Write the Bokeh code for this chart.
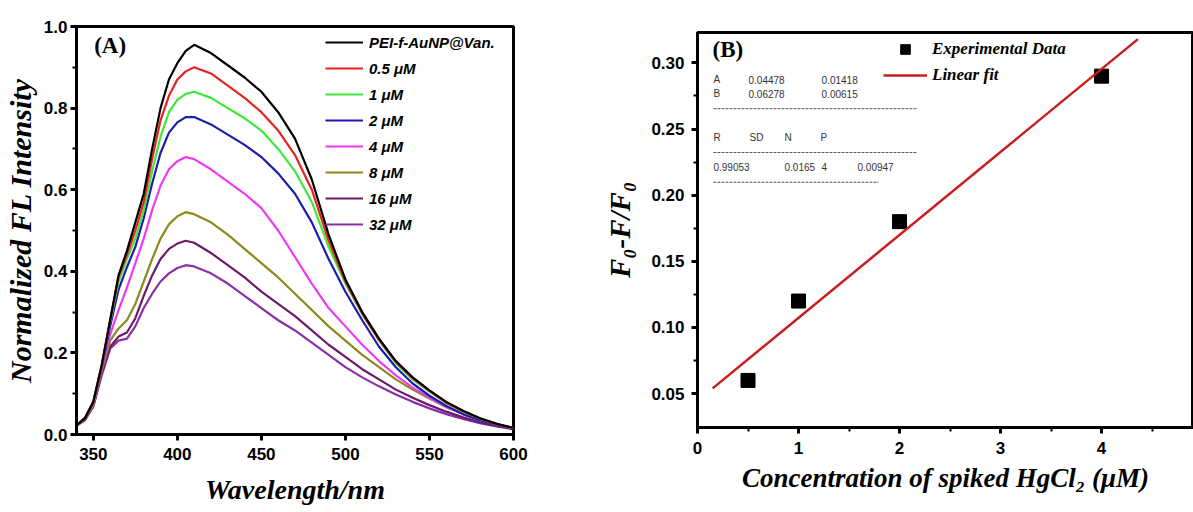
from bokeh.plotting import figure
from bokeh.layouts import row
from bokeh.models import FixedTicker, PrintfTickFormatter, Legend, LegendItem, Range1d
from bokeh.core.properties import value
from bokeh.embed import file_html
from bokeh.resources import INLINE

# ---------------- Panel A data ----------------
wavelength = [340, 345, 350, 355, 360, 365, 370, 375, 380, 385, 390, 395, 400, 405, 410,
              420, 430, 440, 450, 460, 470, 480, 490, 500, 510, 520, 530, 540,
              550, 560, 570, 580, 590, 600]
pei = [0.022, 0.04, 0.08, 0.17, 0.28, 0.39, 0.45, 0.52, 0.59, 0.70, 0.80, 0.87, 0.91, 0.94, 0.955,
       0.935, 0.905, 0.875, 0.84, 0.79, 0.725, 0.625, 0.49, 0.38, 0.30, 0.235, 0.18, 0.14,
       0.108, 0.08, 0.058, 0.04, 0.026, 0.016]
c05 = [0.022, 0.04, 0.08, 0.17, 0.28, 0.385, 0.44, 0.50, 0.57, 0.675, 0.77, 0.83, 0.87, 0.89, 0.90,
       0.885, 0.855, 0.825, 0.79, 0.745, 0.685, 0.60, 0.475, 0.375, 0.297, 0.232, 0.178, 0.138,
       0.107, 0.078, 0.057, 0.04, 0.026, 0.016]
c1 = [0.022, 0.04, 0.08, 0.17, 0.275, 0.375, 0.43, 0.48, 0.55, 0.645, 0.73, 0.79, 0.82, 0.835, 0.84,
      0.825, 0.80, 0.775, 0.745, 0.70, 0.645, 0.57, 0.46, 0.37, 0.295, 0.23, 0.175, 0.135,
      0.105, 0.077, 0.056, 0.039, 0.025, 0.016]
c2 = [0.022, 0.04, 0.078, 0.165, 0.265, 0.355, 0.41, 0.46, 0.53, 0.615, 0.69, 0.74, 0.765, 0.778, 0.778,
      0.76, 0.735, 0.71, 0.68, 0.64, 0.59, 0.52, 0.43, 0.35, 0.28, 0.215, 0.165, 0.125,
      0.095, 0.07, 0.05, 0.035, 0.024, 0.016]
c4 = [0.022, 0.04, 0.075, 0.16, 0.245, 0.305, 0.36, 0.42, 0.48, 0.55, 0.61, 0.65, 0.67, 0.68, 0.675,
      0.65, 0.62, 0.59, 0.555, 0.50, 0.435, 0.37, 0.31, 0.265, 0.22, 0.18, 0.145, 0.115,
      0.09, 0.068, 0.05, 0.035, 0.024, 0.016]
c8 = [0.022, 0.038, 0.072, 0.155, 0.23, 0.26, 0.28, 0.32, 0.375, 0.43, 0.48, 0.515, 0.535, 0.545, 0.54,
      0.52, 0.49, 0.455, 0.42, 0.385, 0.345, 0.305, 0.265, 0.23, 0.195, 0.165, 0.135, 0.11,
      0.088, 0.067, 0.05, 0.036, 0.025, 0.016]
c16 = [0.022, 0.036, 0.07, 0.15, 0.215, 0.24, 0.25, 0.285, 0.34, 0.39, 0.43, 0.455, 0.468, 0.475, 0.47,
       0.445, 0.415, 0.385, 0.35, 0.32, 0.29, 0.255, 0.22, 0.19, 0.16, 0.135, 0.11, 0.09,
       0.072, 0.056, 0.042, 0.03, 0.021, 0.014]
c32 = [0.022, 0.035, 0.068, 0.145, 0.21, 0.23, 0.235, 0.265, 0.31, 0.345, 0.375, 0.395, 0.408, 0.415, 0.412,
       0.395, 0.37, 0.34, 0.31, 0.28, 0.255, 0.225, 0.195, 0.165, 0.14, 0.118, 0.098, 0.08,
       0.064, 0.05, 0.038, 0.028, 0.02, 0.013]
series_labels = ["PEI-f-AuNP@Van.", "0.5 \u03bcM", "1 \u03bcM", "2 \u03bcM", "4 \u03bcM",
                 "8 \u03bcM", "16 \u03bcM", "32 \u03bcM"]
series_colors = ["#000000", "#e8231f", "#3ee83a", "#1c1cb0", "#ee3aee", "#8c8a1c", "#6e1a6a", "#8a2fa8"]

# ---------------- Panel B data ----------------
conc = [0.5, 1, 2, 4]
quench = [0.06, 0.12, 0.18, 0.29]
fit_x = [0.15, 4.36]
fit_y = [0.054, 0.318]
stats_row1 = ["A", "0.04478", "0.01418"]
stats_row2 = ["B", "0.06278", "0.00615"]
stats_head = ["R", "SD", "N", "P"]
stats_vals = ["0.99053", "0.0165", "4", "0.00947"]

SANS = "Liberation Sans"
SERIF = "Liberation Serif"


def style_axes(p):
    for ax in (p.xaxis[0], p.yaxis[0]):
        ax.axis_line_width = 3
        ax.major_tick_line_width = 3
        ax.minor_tick_line_width = 2
        ax.major_tick_out = 6
        ax.major_tick_in = 0
        ax.minor_tick_out = 4
        ax.minor_tick_in = 0
        ax.major_label_text_font = SANS
        ax.major_label_text_font_style = "bold"
        ax.major_label_text_font_size = "17px"
        ax.major_label_text_color = "black"
        ax.axis_label_text_font = SERIF
        ax.axis_label_text_font_style = "bold italic"
        ax.axis_label_text_color = "black"
    p.xgrid.visible = False
    p.ygrid.visible = False
    p.outline_line_color = "black"
    p.outline_line_width = 3
    p.outline_line_alpha = 1.0


# ---------------- Panel A ----------------
pA = figure(width=600, height=512, output_backend="svg", toolbar_location=None,
            x_range=Range1d(340, 600), y_range=Range1d(0, 1.0),
            min_border_left=76, min_border_right=87, min_border_top=26, min_border_bottom=78,
            x_axis_label="Wavelength/nm", y_axis_label="Normalized FL Intensity",
            frame_align=False)
style_axes(pA)
pA.xaxis.ticker = FixedTicker(ticks=[350, 400, 450, 500, 550, 600], minor_ticks=[])
pA.yaxis.ticker = FixedTicker(ticks=[0, 0.2, 0.4, 0.6, 0.8, 1.0], minor_ticks=[0.1, 0.3, 0.5, 0.7, 0.9])
pA.yaxis.formatter = PrintfTickFormatter(format="%.1f")
pA.xaxis.axis_label_text_font_size = "28px"
pA.yaxis.axis_label_text_font_size = "30px"
pA.xaxis.major_label_standoff = 7
pA.yaxis.major_label_standoff = 3
pA.xaxis.axis_label_standoff = 11
pA.yaxis.axis_label_standoff = 4

itemsA = []
for vals, lab, col in zip([pei, c05, c1, c2, c4, c8, c16, c32][::-1],
                          series_labels[::-1], series_colors[::-1]):
    r = pA.line(wavelength, vals, line_color=col, line_width=2.2)
    itemsA.append(LegendItem(label=lab, renderers=[r]))
itemsA = itemsA[::-1]
legA = Legend(items=itemsA, location=(249, 200), padding=0, margin=0,
              border_line_alpha=0, background_fill_alpha=0,
              glyph_width=38, glyph_height=20, label_height=20, spacing=6,
              label_standoff=6, label_text_font=SANS, label_text_font_style="bold italic",
              label_text_font_size="15px", label_text_color="black")
pA.add_layout(legA, "center")
pA.text(x=[350.5], y=[0.953], text=["(A)"], text_font=value(SERIF), text_font_style="bold",
        text_font_size="23px", text_baseline="middle", text_align="left", text_color="black")

# ---------------- Panel B ----------------
pB = figure(width=593, height=512, output_backend="svg", toolbar_location=None,
            x_range=Range1d(0, 4.91), y_range=Range1d(0.0244, 0.323),
            min_border_left=97, min_border_right=0, min_border_top=32, min_border_bottom=85,
            x_axis_label="Concentration of spiked HgCl\u2082 (\u03bcM)",
            y_axis_label="F\u2080-F/F\u2080", frame_align=False)
style_axes(pB)
pB.xaxis.ticker = FixedTicker(ticks=[0, 1, 2, 3, 4], minor_ticks=[0.5, 1.5, 2.5, 3.5, 4.5])
pB.yaxis.ticker = FixedTicker(ticks=[0.05, 0.10, 0.15, 0.20, 0.25, 0.30],
                              minor_ticks=[0.075, 0.125, 0.175, 0.225, 0.275])
pB.yaxis.formatter = PrintfTickFormatter(format="%.2f")
pB.xaxis.axis_label_text_font_size = "27px"
pB.yaxis.axis_label_text_font_size = "29px"
pB.xaxis.major_label_standoff = 8
pB.yaxis.major_label_standoff = 7
pB.xaxis.axis_label_standoff = 6
pB.yaxis.axis_label_standoff = 12

sc = pB.scatter(conc, quench, marker="square", size=14, fill_color="black", line_color="black")
fl = pB.line(fit_x, fit_y, line_color="#c81e1e", line_width=2.5)
legB = Legend(items=[LegendItem(label="Experimental Data", renderers=[sc]),
                     LegendItem(label="Linear fit", renderers=[fl])],
              location=(186, 340), padding=0, margin=0,
              border_line_alpha=0, background_fill_alpha=0,
              glyph_width=44, glyph_height=24, label_height=24, spacing=2,
              label_standoff=5, label_text_font=SERIF, label_text_font_style="bold italic",
              label_text_font_size="17px", label_text_color="black")
pB.add_layout(legB, "center")
pB.text(x=[0.149], y=[0.3098], text=["(B)"], text_font=value(SERIF), text_font_style="bold",
        text_font_size="23px", text_baseline="middle", text_align="left", text_color="black")

tkw = dict(text_font=value(SANS), text_font_size="10px", text_baseline="middle",
           text_align="left", text_color="#333333")
pB.text(x=[0.158, 0.505, 1.228], y=[0.2872] * 3, text=stats_row1, **tkw)
pB.text(x=[0.158, 0.505, 1.228], y=[0.2767] * 3, text=stats_row2, **tkw)
pB.text(x=[0.158, 0.515, 0.861, 1.218], y=[0.2436] * 4, text=stats_head, **tkw)
pB.text(x=[0.158, 0.861, 1.228, 1.584], y=[0.2210] * 4, text=stats_vals, **tkw)
pB.segment(x0=[0.158, 0.158, 0.158], y0=[0.2654, 0.2323, 0.2098],
           x1=[2.168, 2.168, 1.792], y1=[0.2654, 0.2323, 0.2098],
           line_color="#555555", line_width=1, line_dash="3 1")

layout = row(pA, pB)
open("out.html", "w").write(file_html(layout, INLINE))
